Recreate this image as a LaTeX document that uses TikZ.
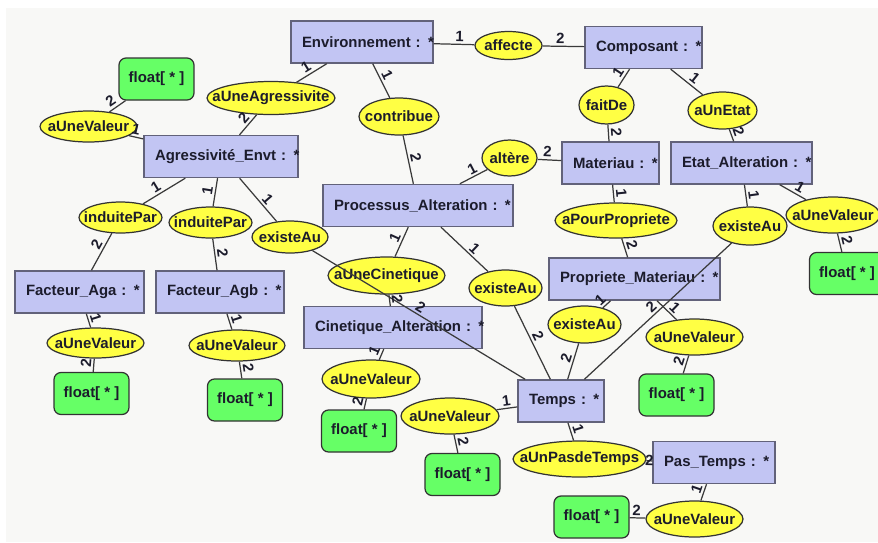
\documentclass[tikz,border=0pt]{standalone}
\usepackage{fontspec}
\setmainfont{Liberation Sans}
\usetikzlibrary{shapes.geometric}
\definecolor{entfill}{HTML}{C2C5F3}
\definecolor{entline}{HTML}{62627A}
\definecolor{relfill}{HTML}{FFFF44}
\definecolor{valfill}{HTML}{66FF66}
\definecolor{edgecol}{HTML}{3A3A3A}
\definecolor{ink}{HTML}{1C1C2C}
\definecolor{bgcol}{HTML}{F8F8F6}
\begin{document}
\begin{tikzpicture}[
        x=0.02cm, y=-0.02cm,
        every node/.style={font=\bfseries\fontsize{8.5}{10}\selectfont, text=ink},
        ent/.style={rectangle, draw=entline, fill=entfill, line width=0.8pt,
                    minimum height=0.84cm, inner xsep=0.22cm, inner ysep=0pt,
                    text width=#1, align=left},
        val/.style={rectangle, draw=black!80, fill=valfill, rounded corners=0.14cm,
                    line width=0.7pt, minimum width=1.5cm, minimum height=0.84cm},
        rel/.style={ellipse, draw=black!80, fill=relfill, line width=0.7pt, inner sep=0pt},
        link/.style={draw=edgecol, line width=0.7pt},
        card/.style={sloped, above, inner sep=1.2pt}
    ]
        \useasboundingbox (0,0) rectangle (878,542);
        \fill[white] (0,0) rectangle (878,542);
        \fill[bgcol] (6,8) rectangle (878,542);

        % concepts
        \node[ent=2.40cm] (env)   at (362,42)    {\mbox{Environnement : *}};
        \node[ent=1.90cm] (comp)  at (643.5,47.5) {\mbox{Composant : *}};
        \node[ent=2.64cm] (agr)   at (221,156.5) {\mbox{Agressivité\_Envt : *}};
        \node[ent=1.50cm] (mat)   at (610.5,163) {\mbox{Materiau : *}};
        \node[ent=2.38cm] (etat)  at (741.5,163) {\mbox{Etat\_Alteration : *}};
        \node[ent=3.36cm] (proc)  at (418,205.5) {\mbox{Processus\_Alteration : *}};
        \node[ent=2.14cm] (faga)  at (79.5,292)  {\mbox{Facteur\_Aga : *}};
        \node[ent=2.12cm] (fagb)  at (220,292)   {\mbox{Facteur\_Agb : *}};
        \node[ent=2.98cm] (prop)  at (634.5,279) {\mbox{Propriete\_Materiau : *}};
        \node[ent=3.12cm] (cin)   at (393,327.5) {\mbox{Cinetique\_Alteration : *}};
        \node[ent=1.28cm] (temps) at (561,401)   {\mbox{Temps : *}};
        \node[ent=2.00cm] (pas)   at (714,462.5) {\mbox{Pas\_Temps : *}};

        % values
        \node[val] (fg)  at (156.5,79)    {float[ * ]};
        \node[val] (fa)  at (91.5,393.5)  {float[ * ]};
        \node[val] (fb)  at (245,400)     {float[ * ]};
        \node[val] (fc)  at (359,431)     {float[ * ]};
        \node[val] (ft)  at (462.5,474.5) {float[ * ]};
        \node[val] (fp)  at (676.5,395)   {float[ * ]};
        \node[val] (fe)  at (847,273.5)   {float[ * ]};
        \node[val] (fpt) at (591.5,517)   {float[ * ]};

        % relations
        \node[rel, minimum width=1.34cm, minimum height=0.56cm] (affecte) at (508.5,45.5) {\makebox[0pt]{affecte}};
        \node[rel, minimum width=2.56cm, minimum height=0.66cm] (agg)     at (271,98)     {\makebox[0pt]{aUneAgressivite}};
        \node[rel, minimum width=1.94cm, minimum height=0.62cm] (valg)    at (88.5,126.5) {\makebox[0pt]{aUneValeur}};
        \node[rel, minimum width=1.60cm, minimum height=0.74cm] (contrib) at (399,116.5)  {\makebox[0pt]{contribue}};
        \node[rel, minimum width=1.10cm, minimum height=0.76cm] (faitde)  at (606.5,105)  {\makebox[0pt]{faitDe}};
        \node[rel, minimum width=1.38cm, minimum height=0.74cm] (aunetat) at (722.5,110.5) {\makebox[0pt]{aUnEtat}};
        \node[rel, minimum width=1.10cm, minimum height=0.72cm] (altere)  at (509.5,158)  {\makebox[0pt]{altère}};
        \node[rel, minimum width=1.66cm, minimum height=0.62cm] (indA)    at (120.5,217.5) {\makebox[0pt]{induitePar}};
        \node[rel, minimum width=1.66cm, minimum height=0.62cm] (indB)    at (210.5,222.5) {\makebox[0pt]{induitePar}};
        \node[rel, minimum width=1.52cm, minimum height=0.64cm] (exA)     at (290,237)    {\makebox[0pt]{existeAu}};
        \node[rel, minimum width=2.34cm, minimum height=0.74cm] (cinet)   at (386.5,275.5) {\makebox[0pt]{aUneCinetique}};
        \node[rel, minimum width=1.46cm, minimum height=0.72cm] (exB)     at (505.5,288)  {\makebox[0pt]{existeAu}};
        \node[rel, minimum width=2.44cm, minimum height=0.70cm] (apour)   at (616,220.5)  {\makebox[0pt]{aPourPropriete}};
        \node[rel, minimum width=1.48cm, minimum height=0.76cm] (exC)     at (750,226)    {\makebox[0pt]{existeAu}};
        \node[rel, minimum width=1.88cm, minimum height=0.72cm] (vale)    at (833,215)    {\makebox[0pt]{aUneValeur}};
        \node[rel, minimum width=1.46cm, minimum height=0.74cm] (exD)     at (584.5,324.5) {\makebox[0pt]{existeAu}};
        \node[rel, minimum width=1.94cm, minimum height=0.72cm] (valp)    at (694.5,337)  {\makebox[0pt]{aUneValeur}};
        \node[rel, minimum width=1.94cm, minimum height=0.60cm] (vala)    at (95.5,343)   {\makebox[0pt]{aUneValeur}};
        \node[rel, minimum width=1.92cm, minimum height=0.62cm] (valb)    at (237,345.5)  {\makebox[0pt]{aUneValeur}};
        \node[rel, minimum width=1.96cm, minimum height=0.76cm] (valc)    at (371,379)    {\makebox[0pt]{aUneValeur}};
        \node[rel, minimum width=1.96cm, minimum height=0.72cm] (valt)    at (450,416)    {\makebox[0pt]{aUneValeur}};
        \node[rel, minimum width=2.66cm, minimum height=0.72cm] (pasdt)   at (579.5,459)  {\makebox[0pt]{aUnPasdeTemps}};
        \node[rel, minimum width=1.94cm, minimum height=0.72cm] (valpt)   at (694.5,519)  {\makebox[0pt]{aUneValeur}};

        % links
        \draw[link] (env) -- node[card, pos=.63] {1} (affecte);
        \draw[link] (affecte) -- node[card, pos=.42] {2} (comp);
        \draw[link] (env) -- node[card, pos=.55] {1} (agg);
        \draw[link] (agg) -- node[card, pos=.41] {2} (agr);
        \draw[link] (env) -- node[card, pos=.44] {1} (contrib);
        \draw[link] (contrib) -- node[card, pos=.49] {2} (proc);
        \draw[link] (comp) -- node[card, pos=.43] {1} (faitde);
        \draw[link] (faitde) -- node[card, pos=.48] {2} (mat);
        \draw[link] (comp) -- node[card, pos=.6] {1} (aunetat);
        \draw[link] (aunetat) -- node[card, pos=.43] {2} (etat);
        \draw[link] (proc) -- node[card, pos=.58] {1} (altere);
        \draw[link] (altere) -- node[card, pos=.4] {2} (mat);
        \draw[link] (fg) -- node[card, pos=.64] {2} (valg);
        \draw[link] (valg) -- node[card, pos=.38] {1} (agr);
        \draw[link] (agr) -- node[card, pos=.6] {1} (indA);
        \draw[link] (indA) -- node[card, pos=.41] {2} (faga);
        \draw[link] (agr) -- node[card, pos=.5] {1} (indB);
        \draw[link] (indB) -- node[card, pos=.47] {2} (fagb);
        \draw[link] (agr) -- node[card, pos=.6] {1} (exA);
        \draw[link] (exA) -- node[card, pos=.49] {2} (temps);
        \draw[link] (proc) -- node[card, pos=.46] {1} (cinet);
        \draw[link] (cinet) -- node[card, pos=.47] {2} (cin);
        \draw[link] (cin) -- node[card, pos=.48] {1} (valc);
        \draw[link] (valc) -- node[card, pos=.44] {2} (fc);
        \draw[link] (proc) -- node[card, pos=.6] {1} (exB);
        \draw[link] (exB) -- node[card, pos=.46] {2} (temps);
        \draw[link] (mat) -- node[card, pos=.52] {1} (apour);
        \draw[link] (apour) -- node[card, pos=.47] {2} (prop);
        \draw[link] (etat) -- node[card, pos=.5] {1} (exC);
        \draw[link] (exC) -- node[card, pos=.51] {2} (temps);
        \draw[link] (etat) -- node[card, pos=.62] {1} (vale);
        \draw[link] (vale) -- node[card, pos=.46] {2} (fe);
        \draw[link] (prop) -- node[card, pos=.65] {1} (exD);
        \draw[link] (exD) -- node[card, pos=.46] {2} (temps);
        \draw[link] (prop) -- node[card, pos=.64] {1} (valp);
        \draw[link] (valp) -- node[card, pos=.43] {2} (fp);
        \draw[link] (faga) -- node[card, pos=.45] {1} (vala);
        \draw[link] (vala) -- node[card, pos=.4] {2} (fa);
        \draw[link] (fagb) -- node[card, pos=.47] {1} (valb);
        \draw[link] (valb) -- node[card, pos=.45] {2} (fb);
        \draw[link] (temps) -- node[card, pos=.48] {1} (valt);
        \draw[link] (valt) -- node[card, pos=.44] {2} (ft);
        \draw[link] (temps) -- node[card, pos=.5] {1} (pasdt);
        \draw[link] (pasdt) -- node[card, pos=.52, anchor=center] {2} (pas);
        \draw[link] (pas) -- node[card, pos=.45] {1} (valpt);
        \draw[link] (valpt) -- node[card, pos=.56] {2} (fpt);
    \end{tikzpicture}
\end{document}
